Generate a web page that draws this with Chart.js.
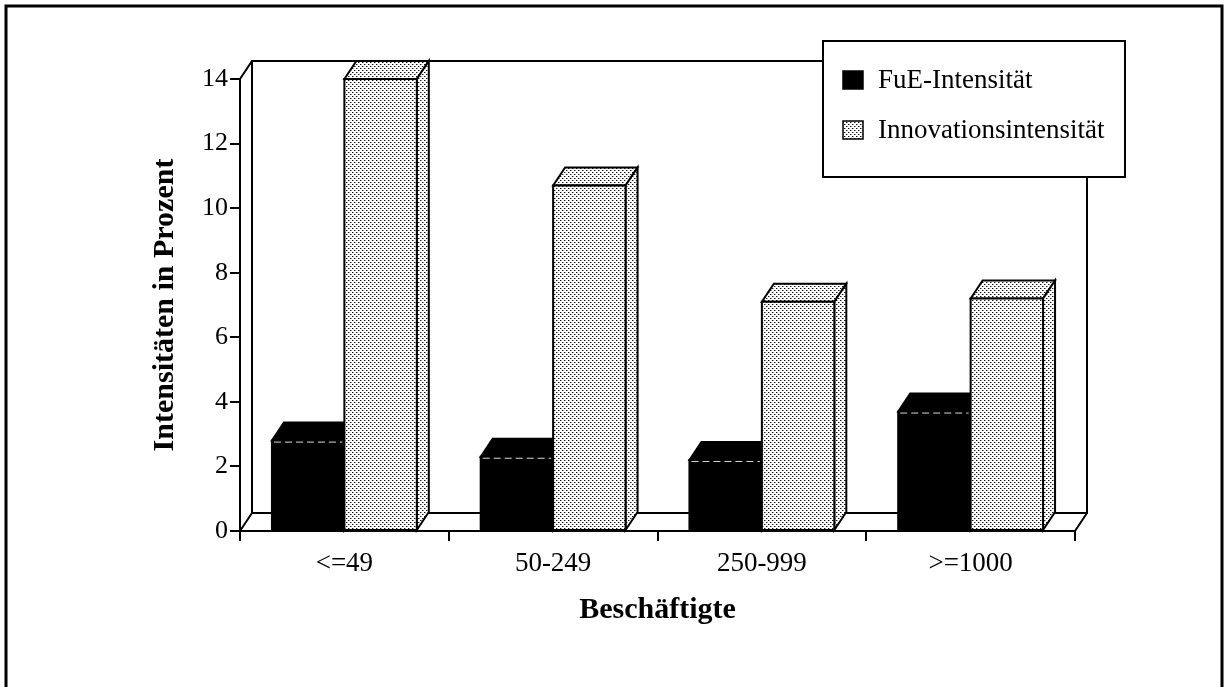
<!DOCTYPE html>
<html><head><meta charset="utf-8">
<script src="https://cdn.jsdelivr.net/npm/chart.js@4.4.0/dist/chart.umd.min.js"></script>
<style>html,body{margin:0;padding:0;background:#fff;}canvas{display:block;}</style>
</head><body>
<canvas id="c" width="1226" height="687"></canvas>
<script>
const categories = ['<=49', '50-249', '250-999', '>=1000'];
const fueIntensity = [2.8, 2.3, 2.2, 3.7];
const innovationIntensity = [14.0, 10.7, 7.1, 7.2];
const seriesNames = ['FuE-Intensität', 'Innovationsintensität'];
const yMin = 0, yMax = 14, yStep = 2;
const yTitle = 'Intensitäten in Prozent';
const xTitle = 'Beschäftigte';

const SERIF = "'Liberation Serif', 'Times New Roman', serif";
const DX = 12, DY = 18;

function makeStipple() {
  const c = document.createElement('canvas');
  c.width = 4; c.height = 4;
  const g = c.getContext('2d');
  g.fillStyle = '#ffffff'; g.fillRect(0, 0, 4, 4);
  g.fillStyle = '#111111'; g.fillRect(0, 0, 1, 1); g.fillRect(2, 2, 1, 1);
  g.fillStyle = '#9a9a9a'; g.fillRect(1, 0, 1, 1); g.fillRect(3, 2, 1, 1);
  const ctx = document.getElementById('c').getContext('2d');
  return ctx.createPattern(c, 'repeat');
}
const stipple = makeStipple();
const seriesFills = ['#000000', stipple];

function face(ctx, pts, fill) {
  ctx.beginPath();
  ctx.moveTo(pts[0][0], pts[0][1]);
  for (let i = 1; i < pts.length; i++) ctx.lineTo(pts[i][0], pts[i][1]);
  ctx.closePath();
  ctx.fillStyle = fill; ctx.fill();
  ctx.lineWidth = 2; ctx.strokeStyle = '#000'; ctx.lineJoin = 'miter';
  ctx.stroke();
}

const threeD = {
  id: 'threeD',
  beforeDatasetsDraw(chart) {
    const {ctx, chartArea: a, scales: {y}} = chart;
    const y0 = y.getPixelForValue(yMin), yT = y.getPixelForValue(yMax);
    ctx.save();
    ctx.strokeStyle = '#000'; ctx.lineWidth = 2;
    ctx.beginPath();
    ctx.moveTo(a.left + DX, y0 - DY); ctx.lineTo(a.left + DX, yT - DY);
    ctx.lineTo(a.right + DX, yT - DY); ctx.lineTo(a.right + DX, y0 - DY);
    ctx.lineTo(a.left + DX, y0 - DY);
    ctx.moveTo(a.left, y0); ctx.lineTo(a.left + DX, y0 - DY);
    ctx.moveTo(a.right, y0); ctx.lineTo(a.right + DX, y0 - DY);
    ctx.moveTo(a.left, y0); ctx.lineTo(a.right, y0);
    ctx.moveTo(a.left, y0 + 10); ctx.lineTo(a.left, yT); ctx.lineTo(a.left + DX, yT - DY);
    ctx.stroke();
    ctx.restore();
  },
  afterDatasetsDraw(chart) {
    const {ctx} = chart;
    ctx.save();
    chart.data.datasets.forEach((ds, di) => {
      const fill = seriesFills[di];
      chart.getDatasetMeta(di).data.forEach(bar => {
        const p = bar.getProps(['x', 'y', 'base', 'width'], true);
        const l = p.x - p.width / 2, r = p.x + p.width / 2;
        face(ctx, [[l, p.y], [l + DX, p.y - DY], [r + DX, p.y - DY], [r, p.y]], fill);
        face(ctx, [[r, p.y], [r + DX, p.y - DY], [r + DX, p.base - DY], [r, p.base]], fill);
        face(ctx, [[l, p.y], [r, p.y], [r, p.base], [l, p.base]], fill);
        if (di === 0) {
          ctx.save();
          ctx.strokeStyle = 'rgba(255,255,255,0.85)'; ctx.lineWidth = 1;
          ctx.setLineDash([7, 4]);
          ctx.beginPath(); ctx.moveTo(l + 2, p.y + 1.5); ctx.lineTo(r - 2, p.y + 1.5); ctx.stroke();
          ctx.restore();
        }
      });
    });
    ctx.restore();
  },
  afterDraw(chart) {
    const {ctx} = chart;
    ctx.save();
    ctx.strokeStyle = '#000'; ctx.lineWidth = 3;
    ctx.beginPath();
    ctx.moveTo(6, 700); ctx.lineTo(6, 6); ctx.lineTo(1222, 6); ctx.lineTo(1222, 700);
    ctx.stroke();
    const bx = 823, by = 41, bw = 302, bh = 136;
    ctx.fillStyle = '#fff'; ctx.fillRect(bx, by, bw, bh);
    ctx.lineWidth = 2; ctx.strokeRect(bx, by, bw, bh);
    const rows = [80, 130];
    ctx.font = '27px ' + SERIF;
    ctx.textBaseline = 'middle'; ctx.textAlign = 'left';
    chart.data.datasets.forEach((ds, i) => {
      const cy = rows[i];
      ctx.fillStyle = seriesFills[i];
      ctx.fillRect(843, cy - 9, 20, 18);
      ctx.lineWidth = 1.5; ctx.strokeStyle = '#000';
      ctx.strokeRect(843, cy - 9, 20, 18);
      ctx.fillStyle = '#000';
      ctx.fillText(ds.label, 878, cy + 1);
    });
    ctx.restore();
  }
};

new Chart(document.getElementById('c'), {
  type: 'bar',
  data: {
    labels: categories,
    datasets: [
      {label: seriesNames[0], data: fueIntensity, backgroundColor: 'rgba(0,0,0,0)', borderWidth: 0},
      {label: seriesNames[1], data: innovationIntensity, backgroundColor: 'rgba(0,0,0,0)', borderWidth: 0}
    ]
  },
  options: {
    responsive: false,
    animation: false,
    devicePixelRatio: 1,
    categoryPercentage: 0.694,
    barPercentage: 1.0,
    layout: {padding: {left: 147, top: 79, right: 151, bottom: 0}},
    plugins: {legend: {display: false}, tooltip: {enabled: false}},
    scales: {
      x: {
        afterFit(s) { s.height = 156; },
        grid: {offset: true, drawOnChartArea: false, tickLength: 10, color: '#000', lineWidth: 2},
        border: {display: false},
        ticks: {color: '#000', font: {family: SERIF, size: 27}, padding: 7},
        title: {display: true, text: xTitle, color: '#000', font: {family: SERIF, size: 30, weight: 'bold'}, padding: {top: 0, bottom: 59}}
      },
      y: {
        min: yMin, max: yMax,
        afterFit(s) { s.width = 93; },
        grid: {drawOnChartArea: false, tickLength: 10, color: '#000', lineWidth: 2},
        border: {display: false},
        ticks: {stepSize: yStep, color: '#000', font: {family: SERIF, size: 26}, padding: 2},
        title: {display: true, text: yTitle, color: '#000', font: {family: SERIF, size: 30, weight: 'bold'}, padding: {top: 0, bottom: 0}}
      }
    }
  },
  plugins: [threeD]
});
</script>
</body></html>
